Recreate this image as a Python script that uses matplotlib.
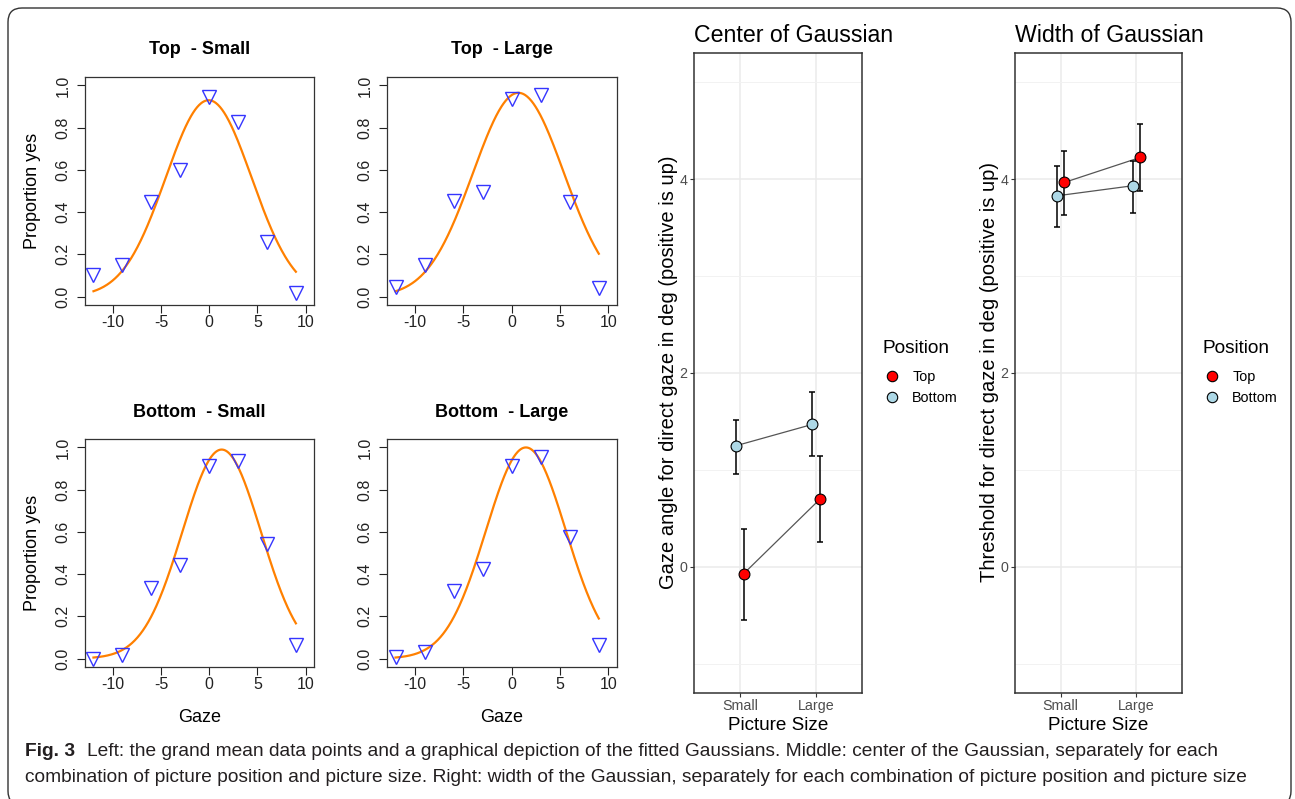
import numpy as np
import matplotlib
matplotlib.use('Agg')
import matplotlib.pyplot as plt
from matplotlib.patches import FancyBboxPatch
from matplotlib.lines import Line2D
from matplotlib.transforms import IdentityTransform
from matplotlib import font_manager

plt.rcParams['font.family'] = ['Liberation Sans', 'DejaVu Sans']

W, H = 1295, 799

# left: grand means per gaze angle
gaze = [-12, -9, -6, -3, 0, 3, 6, 9]
panel_titles = ['Top  - Small', 'Top  - Large', 'Bottom  - Small', 'Bottom  - Large']
prop_top_small = [0.10, 0.15, 0.45, 0.60, 0.947, 0.827, 0.257, 0.016]
prop_top_large = [0.045, 0.15, 0.455, 0.495, 0.935, 0.955, 0.45, 0.04]
prop_bottom_small = [0.0, 0.015, 0.335, 0.445, 0.91, 0.935, 0.545, 0.065]
prop_bottom_large = [0.006, 0.03, 0.32, 0.425, 0.91, 0.955, 0.575, 0.065]
# fitted gaussians (amplitude, center, sigma)
fit_amp = [0.93, 0.965, 0.99, 1.0]
fit_center = [-0.05, 0.7, 1.3, 1.47]
fit_sigma = [4.45, 4.7, 4.08, 4.13]

# middle / right: parameter estimates with error bars
size_labels = ['Small', 'Large']
center_top = [-0.07, 0.70]
center_top_lo = [-0.55, 0.26]
center_top_hi = [0.39, 1.14]
center_bottom = [1.25, 1.47]
center_bottom_lo = [0.96, 1.14]
center_bottom_hi = [1.52, 1.80]
width_top = [3.965, 4.223]
width_top_lo = [3.63, 3.872]
width_top_hi = [4.285, 4.568]
width_bottom = [3.827, 3.931]
width_bottom_lo = [3.504, 3.655]
width_bottom_hi = [4.137, 4.19]

caption_bold = 'Fig. 3'
caption_1 = ('Left: the grand mean data points and a graphical depiction of the fitted Gaussians. '
             'Middle: center of the Gaussian, separately for each')
caption_2 = ('combination of picture position and picture size. Right: width of the Gaussian, '
             'separately for each combination of picture position and picture size')

fig = plt.figure(figsize=(W / 100, H / 100), dpi=100)


def px_rect(x0, y0, x1, y1):
    return [x0 / W, 1 - y1 / H, (x1 - x0) / W, (y1 - y0) / H]


def fx(x):
    return x / W


def fy(y):
    return 1 - y / H


# ---- base-R style panels ----
props = [prop_top_small, prop_top_large, prop_bottom_small, prop_bottom_large]
boxes = [(85, 77, 314, 305), (387, 77, 617, 305), (85, 439, 314, 667), (387, 439, 617, 667)]
curve_x = np.linspace(gaze[0], gaze[-1], 300)
xt = [-10, -5, 0, 5, 10]
yt = [0, 0.2, 0.4, 0.6, 0.8, 1.0]

for i, (p, box) in enumerate(zip(props, boxes)):
    ax = fig.add_axes(px_rect(*box))
    curve = fit_amp[i] * np.exp(-(curve_x - fit_center[i]) ** 2 / (2 * fit_sigma[i] ** 2))
    ax.plot(curve_x, curve, color='#FF8000', lw=1.6)
    ax.plot(gaze, p, ls='none', marker='v', ms=10, mfc='none', mec='#3535FF', mew=1.0)
    ax.set_xlim(-12.88, 10.88)
    ax.set_ylim(-0.04, 1.04)
    ax.set_xticks(xt, labels=[str(v) for v in xt])
    ax.set_yticks(yt, labels=[f'{v:.1f}' for v in yt], rotation=90, va='center')
    ax.tick_params(direction='out', length=5.5, width=0.8, labelsize=11.5, colors='#222222')
    ax.tick_params(axis='x', pad=2.0)
    ax.tick_params(axis='y', pad=5.0)
    for s in ax.spines.values():
        s.set_color('#333333')
        s.set_linewidth(0.9)
    cx = (box[0] + box[2]) / 2
    fig.text(fx(cx), fy(box[1] - 27), panel_titles[i], ha='center', va='center',
             fontsize=13, fontweight='bold')
    if box[0] == 85:
        fig.text(fx(32.5), fy((box[1] + box[3]) / 2), 'Proportion yes', rotation=90,
                 ha='center', va='center', fontsize=13)
    if box[1] == 439:
        fig.text(fx(cx), fy(718), 'Gaze', ha='center', va='center', fontsize=13)


# ---- ggplot style panels ----
def gg_panel(x0, x1, title, ylabel, top, top_lo, top_hi, bot, bot_lo, bot_hi):
    ax = fig.add_axes(px_rect(x0, 53, x1, 693))
    ax.set_xlim(0.4, 2.6)
    ax.set_ylim(-1.3, 5.3)
    ax.set_xticks([1, 2], labels=size_labels)
    ax.set_yticks([0, 2, 4], labels=['0', '2', '4'])
    ax.set_yticks([-1, 1, 3, 5], minor=True)
    ax.grid(True, which='major', color='#EBEBEB', lw=1.1)
    ax.grid(True, which='minor', axis='y', color='#F2F2F2', lw=0.7)
    ax.set_axisbelow(True)
    ax.tick_params(which='major', direction='out', length=2.7, width=0.8, color='#333333',
                   labelsize=10.3, labelcolor='#4D4D4D')
    ax.tick_params(axis='x', pad=1.5)
    ax.tick_params(axis='y', pad=2.3)
    ax.tick_params(which='minor', length=0)
    for s in ax.spines.values():
        s.set_color('#333333')
        s.set_linewidth(1.1)

    xs = np.arange(1, len(size_labels) + 1)
    xb = xs - 0.05
    xtp = xs + 0.05
    ax.plot(xb, bot, color='#555555', lw=0.9, zorder=2)
    ax.plot(xtp, top, color='#555555', lw=0.9, zorder=2)
    bot = np.array(bot)
    top = np.array(top)
    ax.errorbar(xb, bot, yerr=[bot - np.array(bot_lo), np.array(bot_hi) - bot], fmt='none',
                ecolor='black', elinewidth=1.1, capsize=2.5, capthick=1.1, zorder=3)
    ax.errorbar(xtp, top, yerr=[top - np.array(top_lo), np.array(top_hi) - top], fmt='none',
                ecolor='black', elinewidth=1.1, capsize=2.5, capthick=1.1, zorder=3)
    ax.plot(xb, bot, ls='none', marker='o', ms=7.8, mfc='#ADD8E6', mec='black', mew=0.8, zorder=4)
    ax.plot(xtp, top, ls='none', marker='o', ms=7.8, mfc='#FF0000', mec='black', mew=0.8, zorder=4)

    handles = [Line2D([], [], ls='none', marker='o', ms=7.5, mfc='#FF0000', mec='black', mew=0.8),
               Line2D([], [], ls='none', marker='o', ms=7.5, mfc='#ADD8E6', mec='black', mew=0.8)]
    pw = x1 - x0
    ax.legend(handles, ['Top', 'Bottom'], loc='center left',
              bbox_to_anchor=(1 + 20 / pw, (693 - 387.7) / 640), frameon=False, borderpad=0,
              borderaxespad=0, handlelength=1.4, handletextpad=0.7,
              labelspacing=0.45, fontsize=10.4)
    fig.text(fx(x1 + 20), fy(349), 'Position', ha='left', va='center', fontsize=13.7)

    fig.text(fx(x0), fy(41.5), title, ha='left', va='baseline', fontsize=16.7)
    fig.text(fx(x0 - 26), fy(372), ylabel, rotation=90, ha='center', va='center', fontsize=14.5)
    fig.text(fx((x0 + x1) / 2), fy(726), 'Picture Size', ha='center', va='center', fontsize=13.6)
    return ax


gg_panel(694, 862, 'Center of Gaussian', 'Gaze angle for direct gaze in deg (positive is up)',
         center_top, center_top_lo, center_top_hi,
         center_bottom, center_bottom_lo, center_bottom_hi)
gg_panel(1015, 1182, 'Width of Gaussian', 'Threshold for direct gaze in deg (positive is up)',
         width_top, width_top_lo, width_top_hi,
         width_bottom, width_bottom_lo, width_bottom_hi)

# ---- frame and caption ----
frame = FancyBboxPatch((8, H - 805), 1283, 797, boxstyle='round,pad=0,rounding_size=14',
                       transform=IdentityTransform(), fill=False, ec='#333333', lw=1.0)
fig.add_artist(frame)

names = {f.name for f in font_manager.fontManager.ttflist}
cap_font = 'Liberation Sans Narrow' if 'Liberation Sans Narrow' in names else 'Liberation Sans'
renderer = fig.canvas.get_renderer()
t2 = fig.text(fx(25), fy(782), caption_2, ha='left', va='baseline', fontsize=14,
              family=[cap_font, 'DejaVu Sans'], color='#231F20')
w2 = t2.get_window_extent(renderer).width
cap_size = 14 * 1235 / w2
t2.set_fontsize(cap_size)
fig.text(fx(25), fy(756), caption_bold, ha='left', va='baseline', fontsize=cap_size,
         fontweight='bold', family=[cap_font, 'DejaVu Sans'], color='#231F20')
fig.text(fx(87), fy(756), caption_1, ha='left', va='baseline', fontsize=cap_size,
         family=[cap_font, 'DejaVu Sans'], color='#231F20')

fig.savefig('out.png', dpi=100)
